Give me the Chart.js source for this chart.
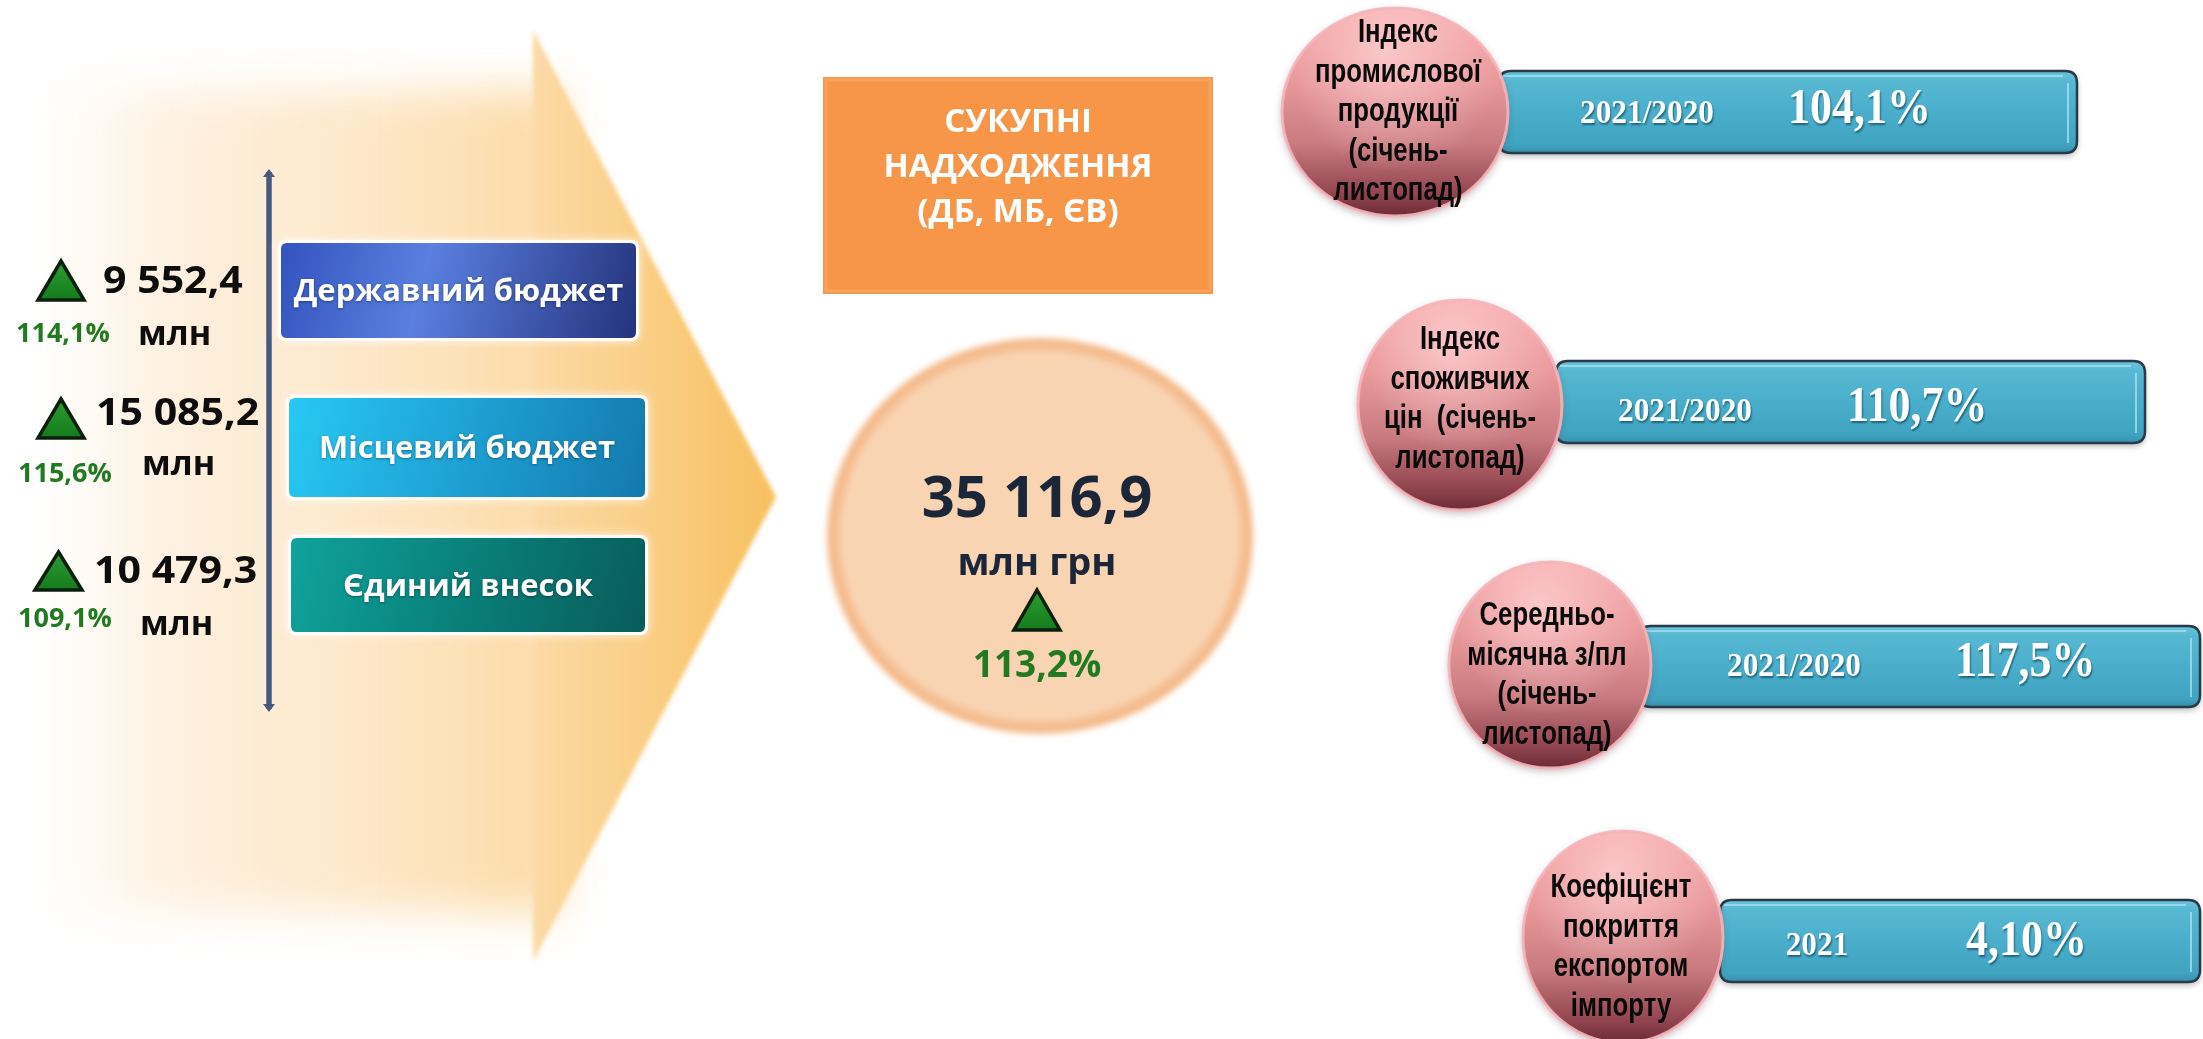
<!DOCTYPE html>
<html lang="uk">
<head>
<meta charset="utf-8">
<title>Сукупні надходження</title>
<script src="https://cdn.jsdelivr.net/npm/chart.js@4.4.1/dist/chart.umd.min.js"></script>
<style>
  html, body { margin: 0; padding: 0; background: #ffffff; }
  #board { display: block; }
</style>
</head>
<body>
<canvas id="board" width="2203" height="1039"></canvas>
<script>
// --- data ---
const budgetNames = ['Державний бюджет', 'Місцевий бюджет', 'Єдиний внесок'];
const budgetValues = [9552.4, 15085.2, 10479.3];
const budgetGrowth = [114.1, 115.6, 109.1];
const budgetUnit = 'млн';

const totalTitle = ['СУКУПНІ', 'НАДХОДЖЕННЯ', '(ДБ, МБ, ЄВ)'];
const totalValue = 35116.9;
const totalGrowth = 113.2;
const totalUnit = 'млн грн';

const indexNames = [
    ['Індекс', 'промислової', 'продукції', '(січень-', 'листопад)'],
    ['Індекс', 'споживчих', 'цін  (січень-', 'листопад)'],
    ['Середньо-', 'місячна з/пл', '(січень-', 'листопад)'],
    ['Коефіцієнт', 'покриття', 'експортом', 'імпорту']
];
const indexPeriods = ['2021/2020', '2021/2020', '2021/2020', '2021'];
const indexValues = [104.1, 110.7, 117.5, 4.10];
const indexDecimals = [1, 1, 1, 2];

function fmtNum(v, d) {
    const parts = v.toFixed(d).split('.');
    const int = parts[0].replace(/\B(?=(\d{3})+(?!\d))/g, ' ');
    return parts[1] ? int + ',' + parts[1] : int;
}

// --- layout (in board units, mapped through the chart scales) ---
const budgetLayout = [
    { tri: [36, 259, 86, 302], val: [103, 293], pct: [16, 342], unit: [138, 345], box: [281, 243, 636, 338],
      colors: ['#3253bd', '#5a7fe0', '#24337c'] },
    { tri: [36, 397, 86, 440], val: [96, 425], pct: [18, 482], unit: [142, 475], box: [289, 398, 645, 497],
      colors: ['#28c9f4', '#20a8da', '#1479ad'] },
    { tri: [33, 550, 84, 592], val: [94, 583], pct: [18, 627], unit: [140, 635], box: [291, 538, 645, 632],
      colors: ['#10a39c', '#0a8680', '#085c5a'] }
];
const indexLayout = [
    { c: [1395, 112, 113, 104], ty: 33, tx: 1398, bar: [1499, 71, 2077, 153], period: 1647, value: 1788, base: 123 },
    { c: [1460, 405, 102, 105], ty: 340, tx: 1460, bar: [1556, 361, 2145, 443], period: 1685, value: 1847, base: 421 },
    { c: [1550, 665, 101, 103], ty: 616, tx: 1547, bar: [1639, 626, 2200, 707], period: 1794, value: 1955, base: 676 },
    { c: [1623, 937, 100, 106], ty: 888, tx: 1621, bar: [1720, 900, 2200, 982], period: 1817, value: 1966, base: 955 }
];

const SANS = '"Open Sans", "DejaVu Sans", sans-serif';
const NARROW = '"Liberation Sans", Arial, sans-serif';
const SERIF = '"Liberation Serif", "Times New Roman", serif';

function rrect(ctx, x, y, w, h, r) {
    ctx.beginPath();
    ctx.moveTo(x + r, y);
    ctx.lineTo(x + w - r, y);
    ctx.quadraticCurveTo(x + w, y, x + w, y + r);
    ctx.lineTo(x + w, y + h - r);
    ctx.quadraticCurveTo(x + w, y + h, x + w - r, y + h);
    ctx.lineTo(x + r, y + h);
    ctx.quadraticCurveTo(x, y + h, x, y + h - r);
    ctx.lineTo(x, y + r);
    ctx.quadraticCurveTo(x, y, x + r, y);
    ctx.closePath();
}

function squeezeText(ctx, str, x, y, sx) {
    ctx.save();
    ctx.translate(x, y);
    ctx.scale(sx, 1);
    ctx.fillText(str, 0, 0);
    ctx.restore();
}

function growthTriangle(ctx, x0, y0, x1, y1) {
    const g = ctx.createLinearGradient(0, y0, 0, y1);
    g.addColorStop(0, '#2f9d33');
    g.addColorStop(1, '#137a1c');
    ctx.beginPath();
    ctx.moveTo((x0 + x1) / 2, y0 + 2);
    ctx.lineTo(x1 - 2, y1 - 2);
    ctx.lineTo(x0 + 2, y1 - 2);
    ctx.closePath();
    ctx.fillStyle = g;
    ctx.fill();
    ctx.lineWidth = 3.5;
    ctx.lineJoin = 'miter';
    ctx.strokeStyle = '#0c1f0c';
    ctx.stroke();
}

const infographic = {
    id: 'infographic',
    beforeDraw(chart) {
        const ctx = chart.ctx;
        const sx = chart.scales.x, sy = chart.scales.y;
        const X = v => sx.getPixelForValue(v);
        const Y = v => sy.getPixelForValue(v);

        ctx.save();
        ctx.fillStyle = '#ffffff';
        ctx.fillRect(0, 0, chart.width, chart.height);

        // big flow arrow: soft body
        ctx.save();
        ctx.filter = 'blur(22px)';
        let g = ctx.createLinearGradient(X(40), 0, X(780), 0);
        g.addColorStop(0, 'rgba(253,236,214,0)');
        g.addColorStop(0.18, 'rgba(253,234,210,0.7)');
        g.addColorStop(0.55, '#fde2ba');
        g.addColorStop(1, '#f9c670');
        ctx.fillStyle = g;
        ctx.beginPath();
        ctx.moveTo(X(60), Y(90));
        ctx.lineTo(X(560), Y(90));
        ctx.lineTo(X(560), Y(912));
        ctx.lineTo(X(60), Y(912));
        ctx.closePath();
        ctx.fill();
        ctx.restore();

        // arrow head
        ctx.save();
        ctx.filter = 'blur(2px)';
        g = ctx.createLinearGradient(X(533), 0, X(776), 0);
        g.addColorStop(0, '#fcdaa6');
        g.addColorStop(1, '#f7c05f');
        ctx.fillStyle = g;
        ctx.beginPath();
        ctx.moveTo(X(533), Y(30));
        ctx.lineTo(X(776), Y(497));
        ctx.lineTo(X(533), Y(962));
        ctx.closePath();
        ctx.fill();
        ctx.restore();

        // vertical bracket line
        ctx.strokeStyle = '#465a7f';
        ctx.lineWidth = 5.5;
        ctx.beginPath();
        ctx.moveTo(X(269), Y(172));
        ctx.lineTo(X(269), Y(709));
        ctx.stroke();
        ctx.fillStyle = '#465a7f';
        [[169, 177], [712, 704]].forEach(([tip, back]) => {
            ctx.beginPath();
            ctx.moveTo(X(269), Y(tip));
            ctx.lineTo(X(275), Y(back));
            ctx.lineTo(X(263), Y(back));
            ctx.closePath();
            ctx.fill();
        });

        // budget rows
        budgetNames.forEach((name, i) => {
            const L = budgetLayout[i];
            const [bx0, by0, bx1, by1] = L.box;
            const x0 = X(bx0), y0 = Y(by0), w = X(bx1) - x0, h = Y(by1) - y0;

            ctx.save();
            ctx.shadowColor = 'rgba(255,255,255,0.95)';
            ctx.shadowBlur = 10;
            rrect(ctx, x0 - 3, y0 - 3, w + 6, h + 6, 8);
            ctx.fillStyle = 'rgba(255,255,255,0.85)';
            ctx.fill();
            ctx.restore();

            const bg = ctx.createLinearGradient(x0, y0, x0 + w, y0 + h);
            bg.addColorStop(0, L.colors[0]);
            bg.addColorStop(0.4, L.colors[1]);
            bg.addColorStop(1, L.colors[2]);
            rrect(ctx, x0, y0, w, h, 6);
            ctx.fillStyle = bg;
            ctx.fill();

            ctx.save();
            ctx.fillStyle = '#ffffff';
            ctx.shadowColor = 'rgba(0,0,0,0.35)';
            ctx.shadowBlur = 3;
            ctx.shadowOffsetY = 1;
            ctx.font = 'bold 31px ' + SANS;
            ctx.textAlign = 'center';
            ctx.textBaseline = 'middle';
            ctx.fillText(name, x0 + w / 2, y0 + h / 2 + 2);
            ctx.restore();

            growthTriangle(ctx, X(L.tri[0]), Y(L.tri[1]), X(L.tri[2]), Y(L.tri[3]));

            ctx.textAlign = 'left';
            ctx.textBaseline = 'alphabetic';
            ctx.fillStyle = '#0d0d0d';
            ctx.font = 'bold 37px ' + SANS;
            squeezeText(ctx, fmtNum(budgetValues[i], 1), X(L.val[0]), Y(L.val[1]), 1.11);
            ctx.font = 'bold 34px ' + SANS;
            ctx.fillText(budgetUnit, X(L.unit[0]), Y(L.unit[1]));
            ctx.fillStyle = '#217a21';
            ctx.font = 'bold 27px ' + SANS;
            ctx.fillText(fmtNum(budgetGrowth[i], 1) + '%', X(L.pct[0]), Y(L.pct[1]));
        });

        // total: orange title box
        ctx.save();
        ctx.shadowColor = 'rgba(255,255,255,1)';
        ctx.shadowBlur = 12;
        ctx.fillStyle = '#f79548';
        ctx.fillRect(X(823), Y(77), X(1213) - X(823), Y(294) - Y(77));
        ctx.restore();
        ctx.strokeStyle = 'rgba(250,170,110,0.6)';
        ctx.lineWidth = 3;
        ctx.strokeRect(X(826), Y(80), X(1210) - X(826), Y(291) - Y(80));
        ctx.fillStyle = '#ffffff';
        ctx.font = 'bold 33px ' + SANS;
        ctx.textAlign = 'center';
        ctx.textBaseline = 'alphabetic';
        totalTitle.forEach((line, k) => {
            ctx.fillText(line, X(1018), Y(132 + k * 45));
        });

        // total: peach disc
        ctx.save();
        ctx.filter = 'blur(3px)';
        ctx.beginPath();
        ctx.ellipse(X(1040), Y(536), X(1040 + 207) - X(1040), Y(536 + 192) - Y(536), 0, 0, Math.PI * 2);
        ctx.fillStyle = '#f9d4b3';
        ctx.fill();
        ctx.lineWidth = 12;
        ctx.strokeStyle = '#f4bb8d';
        ctx.stroke();
        ctx.restore();

        ctx.fillStyle = '#1b2639';
        ctx.font = 'bold 58px ' + SANS;
        ctx.fillText(fmtNum(totalValue, 1), X(1037), Y(517));
        ctx.font = 'bold 38px ' + SANS;
        ctx.fillText(totalUnit, X(1037), Y(575));
        growthTriangle(ctx, X(1012), Y(588), X(1062), Y(632));
        ctx.fillStyle = '#217a21';
        ctx.font = 'bold 37px ' + SANS;
        ctx.fillText(fmtNum(totalGrowth, 1) + '%', X(1037), Y(677));

        // indicator bars
        indexNames.forEach((lines, i) => {
            const L = indexLayout[i];
            const [bx0, by0, bx1, by1] = L.bar;
            const x0 = X(bx0), y0 = Y(by0), w = X(bx1) - x0, h = Y(by1) - y0;

            ctx.save();
            ctx.shadowColor = 'rgba(0,0,0,0.3)';
            ctx.shadowBlur = 6;
            ctx.shadowOffsetY = 3;
            const bg = ctx.createLinearGradient(0, y0, 0, y0 + h);
            bg.addColorStop(0, '#6cc3da');
            bg.addColorStop(0.12, '#57b8d2');
            bg.addColorStop(0.5, '#4aaecb');
            bg.addColorStop(0.9, '#40a3c0');
            bg.addColorStop(1, '#3590ad');
            rrect(ctx, x0, y0, w, h, 12);
            ctx.fillStyle = bg;
            ctx.fill();
            ctx.restore();
            rrect(ctx, x0, y0, w, h, 12);
            ctx.lineWidth = 2.5;
            ctx.strokeStyle = '#2a3a48';
            ctx.stroke();
            ctx.strokeStyle = 'rgba(160,225,240,0.8)';
            ctx.lineWidth = 2;
            ctx.beginPath();
            ctx.moveTo(x0 + 4, y0 + 5);
            ctx.lineTo(x0 + w - 14, y0 + 5);
            ctx.moveTo(x0 + w - 9, y0 + 12);
            ctx.lineTo(x0 + w - 9, y0 + h - 10);
            ctx.stroke();

            ctx.save();
            ctx.fillStyle = '#ffffff';
            ctx.shadowColor = 'rgba(0,40,60,0.55)';
            ctx.shadowBlur = 2;
            ctx.shadowOffsetX = 1;
            ctx.shadowOffsetY = 2;
            ctx.textBaseline = 'alphabetic';
            ctx.textAlign = 'center';
            ctx.font = 'bold 34px ' + SERIF;
            squeezeText(ctx, indexPeriods[i], X(L.period), Y(L.base), 0.92);
            ctx.textAlign = 'left';
            ctx.font = 'bold 50px ' + SERIF;
            squeezeText(ctx, fmtNum(indexValues[i], indexDecimals[i]) + '%', X(L.value), Y(L.base), 0.88);
            ctx.restore();

            // sphere with the indicator name
            const [cx, cy, rx, ry] = L.c;
            const ecx = X(cx), ecy = Y(cy), erx = X(cx + rx) - ecx, ery = Y(cy + ry) - ecy;
            ctx.save();
            ctx.shadowColor = 'rgba(90,40,50,0.35)';
            ctx.shadowBlur = 8;
            ctx.shadowOffsetY = 3;
            const sg = ctx.createLinearGradient(0, ecy - ery, 0, ecy + ery);
            sg.addColorStop(0, '#f6aeb0');
            sg.addColorStop(0.35, '#e9999b');
            sg.addColorStop(0.65, '#c97b80');
            sg.addColorStop(0.88, '#954852');
            sg.addColorStop(1, '#6c2c36');
            ctx.beginPath();
            ctx.ellipse(ecx, ecy, erx, ery, 0, 0, Math.PI * 2);
            ctx.fillStyle = sg;
            ctx.fill();
            ctx.restore();
            const hl = ctx.createRadialGradient(ecx - erx * 0.1, ecy - ery * 0.6, 2, ecx, ecy - ery * 0.4, erx * 0.9);
            hl.addColorStop(0, 'rgba(255,210,212,0.75)');
            hl.addColorStop(1, 'rgba(255,210,212,0)');
            ctx.beginPath();
            ctx.ellipse(ecx, ecy, erx, ery, 0, 0, Math.PI * 2);
            ctx.fillStyle = hl;
            ctx.fill();
            ctx.lineWidth = 3;
            ctx.strokeStyle = 'rgba(245,180,185,0.9)';
            ctx.stroke();

            ctx.fillStyle = '#0a0a0a';
            ctx.font = 'bold 33px ' + NARROW;
            ctx.textAlign = 'center';
            ctx.textBaseline = 'middle';
            lines.forEach((line, k) => {
                squeezeText(ctx, line, X(L.tx), Y(L.ty + k * 39.5), 0.78);
            });
        });
        ctx.restore();
    }
};

const ctxBoard = document.getElementById('board').getContext('2d');
new Chart(ctxBoard, {
    type: 'scatter',
    data: { datasets: [] },
    options: {
        responsive: false,
        animation: false,
        layout: { padding: 0 },
        plugins: {
            legend: { display: false },
            tooltip: { enabled: false }
        },
        scales: {
            x: { type: 'linear', min: 0, max: 2203, display: false },
            y: { type: 'linear', min: 0, max: 1039, reverse: true, display: false }
        }
    },
    plugins: [infographic]
});
</script>
</body>
</html>
